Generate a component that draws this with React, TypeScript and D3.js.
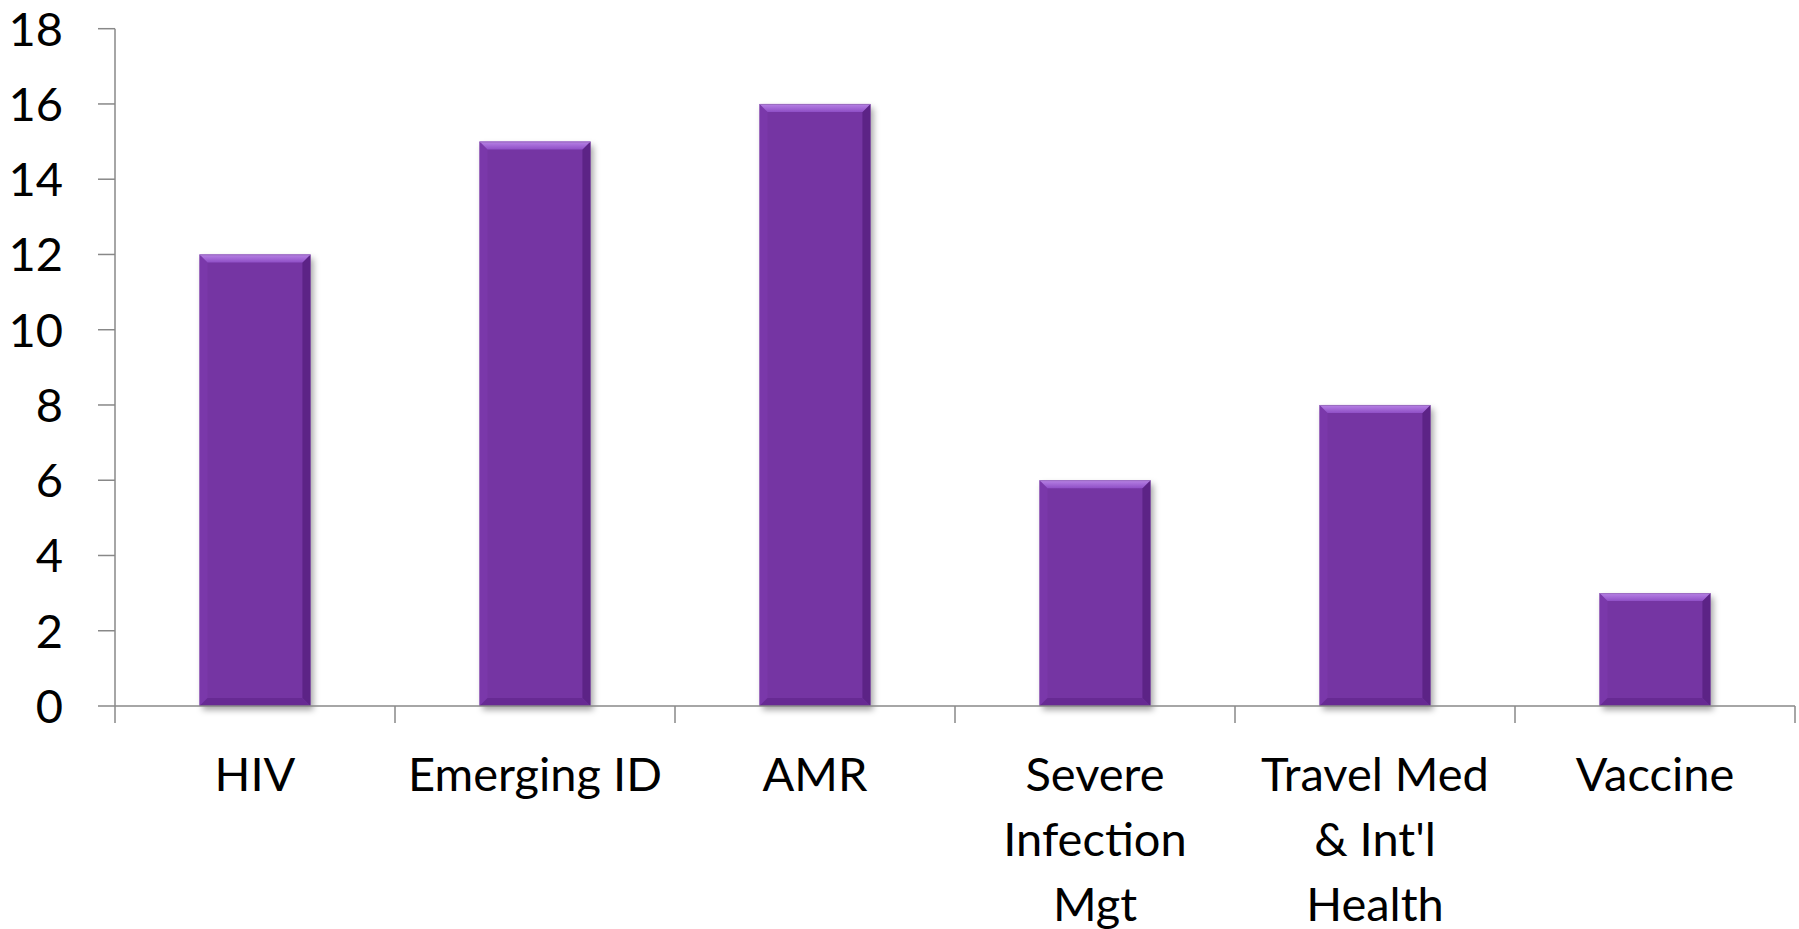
import React from "react";
import * as d3 from "d3";

const categories: string[][] = [
  ["HIV"],
  ["Emerging ID"],
  ["AMR"],
  ["Severe", "Infection", "Mgt"],
  ["Travel Med", "& Int'l", "Health"],
  ["Vaccine"],
];
const values: number[] = [12, 15, 16, 6, 8, 3];
const yTicks: number[] = [0, 2, 4, 6, 8, 10, 12, 14, 16, 18];

const W = 1799;
const H = 929;
const left = 115;
const right = 1795;
const top = 28.7;
const bottom = 706;
const FONT = "Lato, 'Open Sans', sans-serif";

export default function App() {
  const keys = categories.map((c) => c.join(" "));
  const x = d3.scaleBand<string>().domain(keys).range([left, right]).padding(0);
  const y = d3.scaleLinear().domain([0, 18]).range([bottom, top]);
  const bw = x.bandwidth() * 0.396;
  const b = 8;

  return (
    <svg
      width={W}
      height={H}
      style={{ position: "absolute", left: 0, top: 0, background: "#fff" }}
      fontFamily={FONT}
    >
      <defs>
        <filter id="sh" x="-20%" y="-20%" width="150%" height="150%">
          <feDropShadow dx="3" dy="4" stdDeviation="3" floodColor="#000" floodOpacity="0.35" />
        </filter>
        <linearGradient id="topBevel" x1="0" y1="0" x2="0" y2="1">
          <stop offset="0" stopColor="#B883E6" />
          <stop offset="1" stopColor="#8F4FC6" />
        </linearGradient>
      </defs>
      {/* y axis */}
      <line x1={left} x2={left} y1={top} y2={bottom + 17} stroke="#888" strokeWidth={1.5} />
      {yTicks.map((t) => (
        <g key={t}>
          <line x1={left - 17} x2={left} y1={y(t)} y2={y(t)} stroke="#888" strokeWidth={1.5} />
          <text
            x={63}
            y={y(t)}
            dy="0.36em"
            textAnchor="end"
            fontSize={47}
            fill="#000"
          >
            {t}
          </text>
        </g>
      ))}
      {/* bars */}
      {keys.map((k, i) => {
        const cx = (x(k) as number) + x.bandwidth() / 2;
        const x0 = cx - bw / 2;
        const x1 = cx + bw / 2;
        const y0 = y(values[i]);
        const y1 = y(0);
        return (
          <g key={k}>
            <rect x={x0} y={y0} width={bw} height={y1 - y0} fill="#7534A3" filter="url(#sh)" />
            <polygon
              points={`${x0},${y0} ${x0 + b},${y0 + b} ${x0 + b},${y1 - b} ${x0},${y1}`}
              fill="#7A38AA"
            />
            <polygon
              points={`${x1},${y0} ${x1 - b},${y0 + b} ${x1 - b},${y1 - b} ${x1},${y1}`}
              fill="#5C2386"
            />
            <polygon
              points={`${x0},${y1} ${x0 + b},${y1 - b} ${x1 - b},${y1 - b} ${x1},${y1}`}
              fill="#672A93"
            />
            <polygon
              points={`${x0},${y0} ${x1},${y0} ${x1 - b},${y0 + b} ${x0 + b},${y0 + b}`}
              fill="url(#topBevel)"
            />
            <line x1={x0} x2={x1} y1={y0 + 0.5} y2={y0 + 0.5} stroke="#9A6CC0" strokeWidth={1} />
          </g>
        );
      })}
      {/* x axis */}
      <line x1={left} x2={right} y1={bottom} y2={bottom} stroke="#888" strokeWidth={1.5} />
      {keys.map((k) => (
        <line
          key={"t" + k}
          x1={(x(k) as number) + x.bandwidth()}
          x2={(x(k) as number) + x.bandwidth()}
          y1={bottom}
          y2={bottom + 17}
          stroke="#888"
          strokeWidth={1.5}
        />
      ))}
      {categories.map((lines, i) => {
        const cx = (x(keys[i]) as number) + x.bandwidth() / 2;
        return (
          <text key={"l" + i} textAnchor="middle" fontSize={47} fill="#000">
            {lines.map((ln, j) => (
              <tspan key={j} x={cx} y={791 + j * 65}>
                {ln}
              </tspan>
            ))}
          </text>
        );
      })}
    </svg>
  );
}
